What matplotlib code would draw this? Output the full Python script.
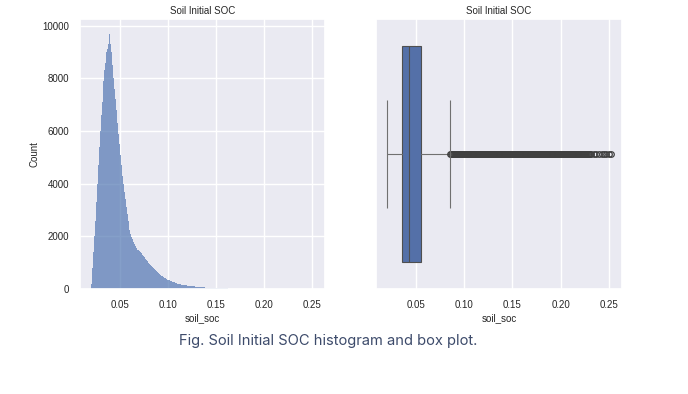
import numpy as np
import matplotlib
matplotlib.use("Agg")
import matplotlib.pyplot as plt
import seaborn as sns

sns.set_theme(style="darkgrid")
plt.rcParams['font.family'] = ['Liberation Sans', 'DejaVu Sans']

# histogram of soil_soc, bins of width 0.001 starting at 0.020
bin_start = 0.020
bin_width = 0.001
counts = [200, 800, 1400, 2000, 2600, 3300, 4000, 4700, 5400, 6000,
          6600, 7100, 7900, 8300, 8600, 8800, 9000, 9100, 9300, 9700,
          9300, 9000, 8500, 8000, 7600, 7200, 6800, 6300, 5900, 5500,
          5100, 4700, 4300, 4000, 3700, 3400, 3100, 2850, 2600, 2400,
          2250, 2100, 1980, 1880, 1780, 1700, 1620, 1560, 1500, 1470,
          1440, 1400, 1350, 1300, 1250, 1200, 1150, 1100, 1050, 1000,
          960, 920, 880, 850, 810, 780, 750, 720, 690, 660,
          620, 580, 550, 510, 480, 450, 420, 400, 380, 360,
          340, 325, 310, 295, 280, 265, 250, 238, 226, 214,
          203, 193, 184, 175, 167, 160, 153, 147, 141, 135,
          130, 125, 120, 115, 110, 105, 100, 96, 92, 88,
          84, 80, 76, 73, 70, 67, 64, 61, 58, 56,
          54, 52, 50, 48, 46, 44, 42, 40, 38, 36,
          34, 32, 30, 29, 28, 26, 25, 24, 23, 22,
          21, 20, 19, 18, 17, 16, 15, 14, 13, 12,
          11, 10, 9, 8, 8, 7, 7, 6, 6, 5,
          5, 5, 4, 4, 4, 3, 3, 3, 3, 3,
          2, 2, 2, 2, 2, 2, 2, 2, 2, 2,
          1, 1, 1, 1, 1, 1, 1, 1, 1, 1,
          1, 1, 1, 1, 1, 1, 1, 1, 1, 1,
          1, 1, 1, 1, 1, 1, 1, 1, 1, 1,
          1, 1, 1, 1, 1, 1, 1, 1, 1, 1,
          1, 1, 1, 1, 1, 1, 1, 1, 1, 1,
          1, 1]

# box plot statistics
whisker_low = 0.0195
q1 = 0.0351
median = 0.0431
q3 = 0.0552
whisker_high = 0.0854
fliers = [0.0856, 0.0866, 0.0876, 0.0886, 0.0896, 0.0906, 0.0916, 0.0926, 0.0936, 0.0946,
          0.0956, 0.0966, 0.0976, 0.0986, 0.0996, 0.1006, 0.1016, 0.1026, 0.1036, 0.1046,
          0.1056, 0.1066, 0.1076, 0.1086, 0.1096, 0.1106, 0.1116, 0.1126, 0.1136, 0.1146,
          0.1156, 0.1166, 0.1176, 0.1186, 0.1196, 0.1206, 0.1216, 0.1226, 0.1236, 0.1246,
          0.1256, 0.1266, 0.1276, 0.1286, 0.1296, 0.1306, 0.1316, 0.1326, 0.1336, 0.1346,
          0.1356, 0.1366, 0.1376, 0.1386, 0.1396, 0.1406, 0.1416, 0.1426, 0.1436, 0.1446,
          0.1456, 0.1466, 0.1476, 0.1486, 0.1496, 0.1506, 0.1516, 0.1526, 0.1536, 0.1546,
          0.1556, 0.1566, 0.1576, 0.1586, 0.1596, 0.1606, 0.1616, 0.1626, 0.1636, 0.1646,
          0.1656, 0.1666, 0.1676, 0.1686, 0.1696, 0.1706, 0.1716, 0.1726, 0.1736, 0.1746,
          0.1756, 0.1766, 0.1776, 0.1786, 0.1796, 0.1806, 0.1816, 0.1826, 0.1836, 0.1846,
          0.1856, 0.1866, 0.1876, 0.1886, 0.1896, 0.1906, 0.1916, 0.1926, 0.1936, 0.1946,
          0.1956, 0.1966, 0.1976, 0.1986, 0.1996, 0.2006, 0.2016, 0.2026, 0.2036, 0.2046,
          0.2056, 0.2066, 0.2076, 0.2086, 0.2096, 0.2106, 0.2116, 0.2126, 0.2136, 0.2146,
          0.2156, 0.2166, 0.2176, 0.2186, 0.2196, 0.2206, 0.2216, 0.2226, 0.2236, 0.2246,
          0.2256, 0.2266, 0.2276, 0.2286, 0.2296, 0.2306, 0.2320, 0.2345, 0.2372, 0.2400,
          0.2425, 0.2448, 0.2475, 0.2500, 0.2520]

fig = plt.figure(figsize=(6.88, 3.94), dpi=100)
fig.patch.set_facecolor('white')
ax1 = fig.add_axes([0.1163, 0.2665, 0.356, 0.685])
ax2 = fig.add_axes([0.5465, 0.2665, 0.3576, 0.685])

edges = bin_start + bin_width * np.arange(len(counts) + 1)
ax1.stairs(counts, edges, fill=True, color='#4c72b0', alpha=0.68, linewidth=0)
ax1.set_xlim(0.0084, 0.2638)
ax1.set_ylim(0, 10250)
ax1.set_yticks([0, 2000, 4000, 6000, 8000, 10000])
ax1.set_xticks([0.05, 0.10, 0.15, 0.20, 0.25])
ax1.set_xticklabels(['0.05', '0.10', '0.15', '0.20', '0.25'])
ax1.set_title("Soil Initial SOC", fontsize=7, pad=4)
ax1.set_xlabel("soil_soc", fontsize=7, labelpad=2)
ax1.set_ylabel("Count", fontsize=7, labelpad=2)
ax1.tick_params(labelsize=7, pad=2)

stats = [dict(whislo=whisker_low, q1=q1, med=median, q3=q3,
              whishi=whisker_high, fliers=fliers)]
ax2.bxp(stats, positions=[0], widths=0.8, capwidths=0.0, vert=False,
        patch_artist=True,
        boxprops=dict(facecolor='#5470a8', edgecolor='#4f4f4f', linewidth=0.8),
        medianprops=dict(color='#4f4f4f', linewidth=0.8),
        whiskerprops=dict(color='#707070', linewidth=0.8),
        capprops=dict(color='#707070', linewidth=0.8),
        flierprops=dict(marker='o', markersize=4, markerfacecolor='none',
                        markeredgecolor='#404040', markeredgewidth=0.9))
# caps drawn as vertical lines spanning 0.4 of the box height
ax2.vlines([whisker_low, whisker_high], -0.2, 0.2, color='#707070', linewidth=0.8)
ax2.set_ylim(0.5, -0.5)
ax2.set_yticks([])
ax2.set_xlim(0.0084, 0.2638)
ax2.set_xticks([0.05, 0.10, 0.15, 0.20, 0.25])
ax2.set_xticklabels(['0.05', '0.10', '0.15', '0.20', '0.25'])
ax2.set_title("Soil Initial SOC", fontsize=7, pad=4)
ax2.set_xlabel("soil_soc", fontsize=7, labelpad=2)
ax2.tick_params(labelsize=7, pad=2)

fig.text(0.4767, 0.1345, "Fig. Soil Initial SOC histogram and box plot.",
         ha='center', va='center', fontsize=10.6, color='#3d4b6b',
         family=['Inter', 'DejaVu Sans'])

fig.savefig("out.png", dpi=100)
